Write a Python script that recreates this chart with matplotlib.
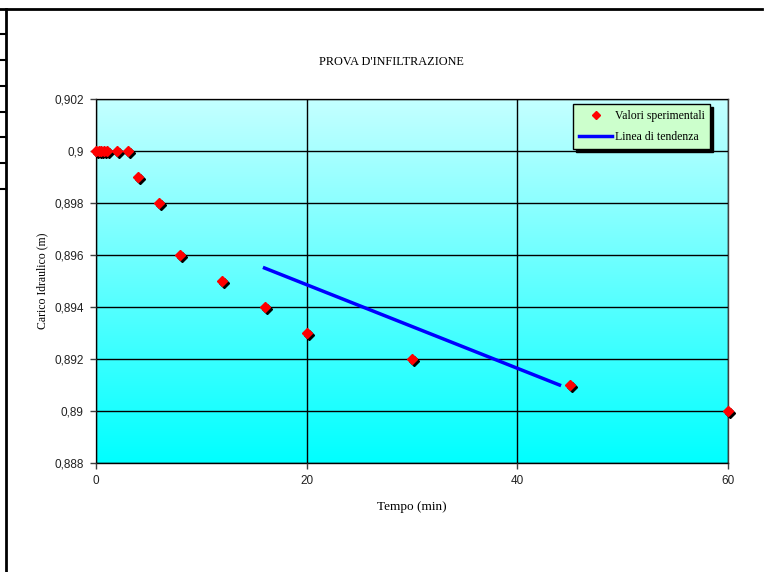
import numpy as np
import matplotlib
matplotlib.use("Agg")
import matplotlib.pyplot as plt
from matplotlib.lines import Line2D
from matplotlib.ticker import FuncFormatter, MultipleLocator
from matplotlib.transforms import offset_copy

# data
tempo = [0, 0.25, 0.5, 0.75, 1, 2, 3, 4, 6, 8, 12, 16, 20, 30, 45, 60]
carico = [0.900, 0.900, 0.900, 0.900, 0.900, 0.900, 0.900, 0.899, 0.898,
          0.896, 0.895, 0.894, 0.893, 0.892, 0.891, 0.890]
trend_x = [16, 44]
trend_y = [0.8955, 0.8910]

W, H = 767, 572
fig = plt.figure(figsize=(W / 100, H / 100), dpi=100)
fig.patch.set_facecolor("white")


def px(x, y):
    return x / W, 1 - y / H


# plot area in pixels: left 96, right 728, top 99, bottom 463
x0, y1 = px(96, 99)
x1, y0 = px(728, 463)
ax = fig.add_axes([x0, y0, x1 - x0, y1 - y0])

ax.set_xlim(0, 60)
ax.set_ylim(0.888, 0.902)

# gradient background (light cyan at the top, cyan at the bottom)
top = np.array([196, 255, 255]) / 255
bot = np.array([0, 255, 255]) / 255
t = np.linspace(0, 1, 256)[:, None]
grad = (top * (1 - t) + bot * t)[:, None, :]
ax.imshow(grad, extent=[0, 60, 0.888, 0.902], aspect="auto", origin="upper",
          zorder=0, interpolation="bicubic")

ax.xaxis.set_major_locator(MultipleLocator(20))
ax.yaxis.set_major_locator(MultipleLocator(0.002))
ax.yaxis.set_major_formatter(FuncFormatter(
    lambda v, p: f"{v:.3f}".rstrip("0").replace(".", ",")))
ax.grid(True, color="black", linewidth=1, zorder=1)
ax.set_axisbelow(False)
for s in ax.spines.values():
    s.set_color("#404040")
    s.set_linewidth(1)
ax.spines["bottom"].set_color("black")
ax.tick_params(direction="out", length=4, width=1, color="#404040",
               labelsize=8.5, labelcolor="#222222", pad=5)
for lab in ax.get_xticklabels() + ax.get_yticklabels():
    lab.set_fontfamily("Liberation Sans")

# shadowed red diamonds
shadow = offset_copy(ax.transData, fig=fig, x=2, y=-2, units="dots")
ax.plot(tempo, carico, linestyle="none", marker="D", ms=5.5, color="black",
        transform=shadow, zorder=3, clip_on=False)
ax.plot(tempo, carico, linestyle="none", marker="D", ms=5.5, color="#FF0000",
        mec="#FF0000", zorder=4, clip_on=False, label="Valori sperimentali")
ax.plot(trend_x, trend_y, color="#0000FF", linewidth=2.5, zorder=4,
        label="Linea di tendenza")

leg = ax.legend(loc="upper right", bbox_to_anchor=(0.976, 0.992),
                fancybox=False, shadow={"color": "black", "alpha": 1},
                framealpha=1, facecolor="#CCFFCC", edgecolor="black",
                prop={"family": "Liberation Serif", "size": 8.5},
                handlelength=2.8, handletextpad=0.2, borderpad=0.5,
                labelspacing=0.75, borderaxespad=0.2, markerscale=0.7)
leg.get_frame().set_linewidth(1)

fig.text(391 / W, 1 - 62 / H, "PROVA D'INFILTRAZIONE", ha="center",
         va="center", family="Liberation Serif", fontsize=8.8)
ax.set_xlabel("Tempo (min)", family="Liberation Serif", fontsize=9.5,
              labelpad=10)
ax.set_ylabel("Carico Idraulico (m)", family="Liberation Serif",
              fontsize=8.5, labelpad=4)

# worksheet border lines around the chart
fig.add_artist(Line2D([0, 762 / W], [1 - 9 / H] * 2, color="black", lw=2,
                      transform=fig.transFigure))
fig.add_artist(Line2D([6 / W] * 2, [0, 1 - 9 / H], color="black", lw=2,
                      transform=fig.transFigure))
for yy in [34, 60, 86, 112, 137, 163, 189]:
    fig.add_artist(Line2D([0, 6 / W], [1 - yy / H] * 2, color="black", lw=1.5,
                          transform=fig.transFigure))

fig.savefig("out.png", dpi=100)
